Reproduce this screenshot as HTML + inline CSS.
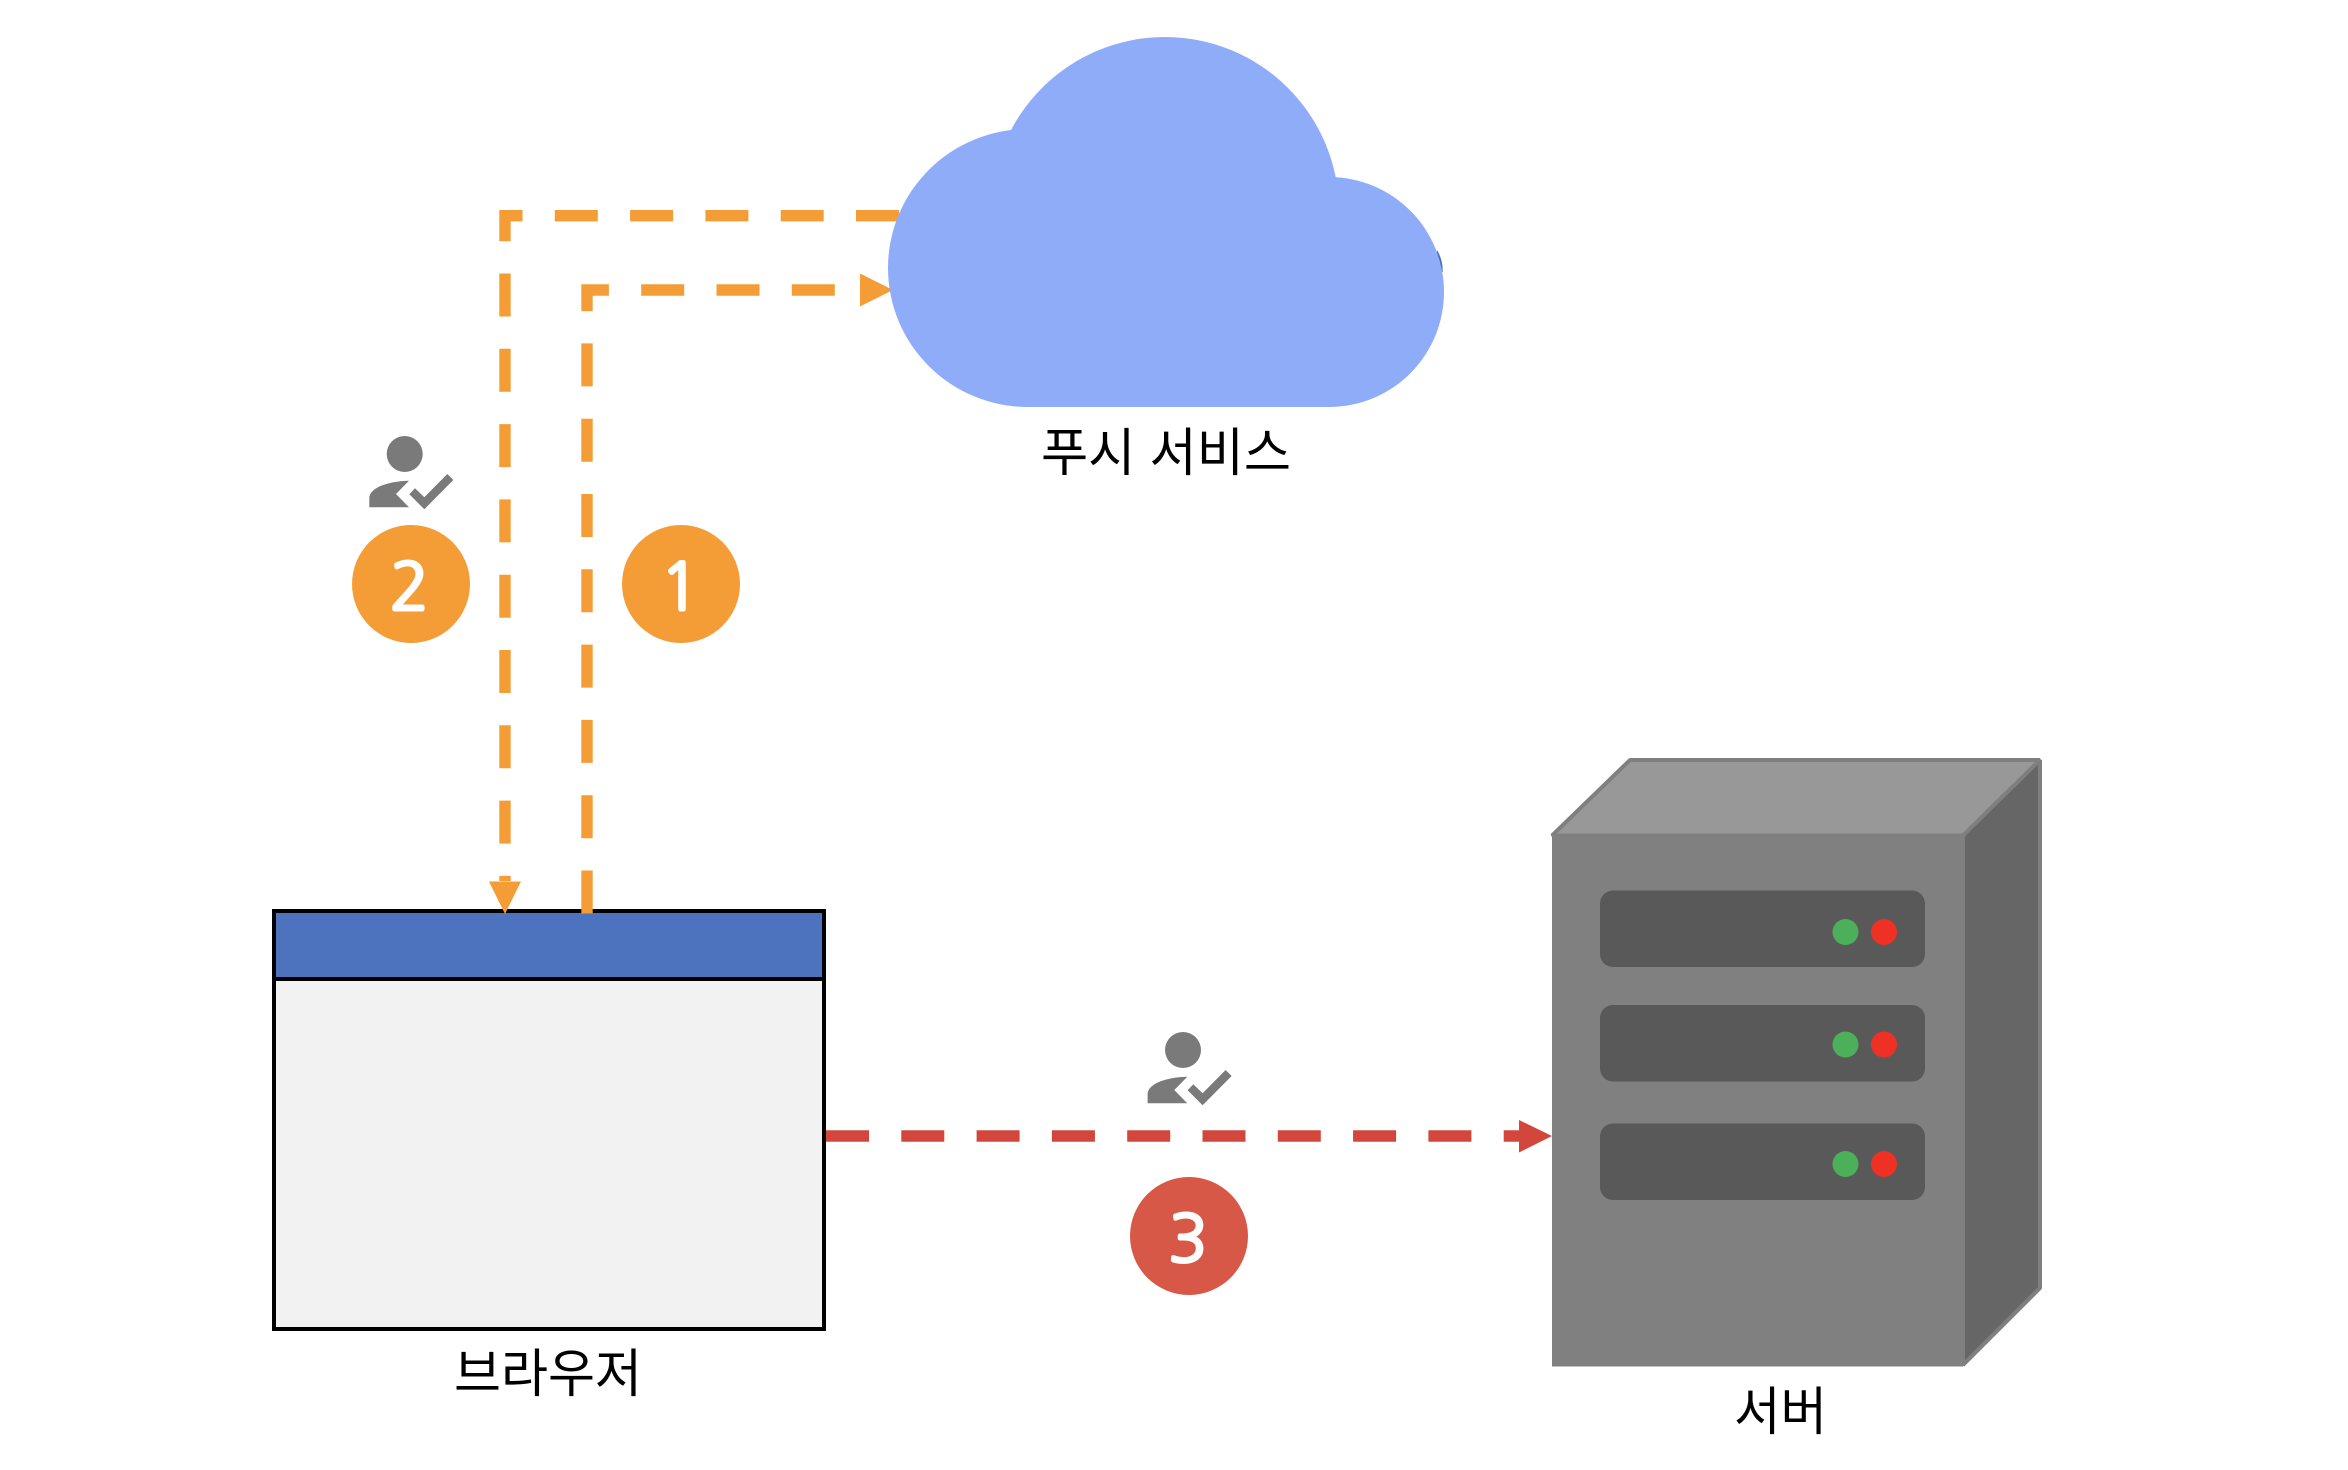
<!DOCTYPE html>
<html lang="ko">
<head>
<meta charset="utf-8">
<title>푸시 서비스 다이어그램</title>
<style>
html,body{margin:0;padding:0;background:#fff;width:2348px;height:1470px;overflow:hidden}
svg{display:block}
.lbl{font-family:"Liberation Sans","Noto Sans CJK KR",sans-serif;font-size:52px;fill:#000}
.num{font-family:"NanumGothic","Liberation Sans",sans-serif;font-size:65px;fill:#fff;stroke:#fff;stroke-width:3;text-anchor:middle}
</style>
</head>
<body>
<svg width="2348" height="1470" viewBox="0 0 2348 1470" xmlns="http://www.w3.org/2000/svg">
<rect width="2348" height="1470" fill="#fff"/>

<!-- browser -->
<rect x="274" y="911" width="550" height="418" fill="#F2F2F2" stroke="#000" stroke-width="4"/>
<rect x="274" y="911" width="550" height="68" fill="#4E73BE" stroke="#000" stroke-width="4"/>
<text class="lbl" x="454" y="1392" textLength="188" lengthAdjust="spacingAndGlyphs">브라우저</text>

<!-- orange connectors -->
<path d="M899 215.7H505V881" fill="none" stroke="#F49D37" stroke-width="11.4" stroke-dasharray="43 32.3"/>
<polygon points="489,881.5 521,881.5 505,914" fill="#F49D37"/>
<path d="M587 913.5V290H861" fill="none" stroke="#F49D37" stroke-width="11.4" stroke-dasharray="43 32.3"/>
<polygon points="860,273.5 860,306.5 893,290" fill="#F49D37"/>

<!-- cloud -->
<path d="M1437 250Q1443 260 1442.7 272L1436 272Z" fill="#4A6CC0"/>
<g fill="#8FACF9">
<ellipse cx="1028" cy="268" rx="140" ry="139"/>
<circle cx="1165" cy="211" r="174"/>
<circle cx="1329" cy="292" r="115"/>
<rect x="1028" y="200" width="301" height="207"/>
</g>
<text class="lbl" x="1041" y="471" textLength="250" lengthAdjust="spacingAndGlyphs">푸시 서비스</text>

<!-- red connector -->
<path d="M826 1136H1519" fill="none" stroke="#D3463B" stroke-width="11.4" stroke-dasharray="43 32.3"/>
<polygon points="1519,1120 1519,1152.5 1552,1136" fill="#D3463B"/>

<!-- server -->
<polygon points="1552,835.5 1630,760 2040,760 1963,835.5" fill="#989898" stroke="#7F7F7F" stroke-width="4" stroke-linejoin="bevel"/>
<polygon points="1963,835.5 2040,760 2040,1288 1963,1365" fill="#666666" stroke="#7F7F7F" stroke-width="4" stroke-linejoin="bevel"/>
<rect x="1552" y="835.5" width="411" height="531" fill="#808080"/>
<g fill="#595959">
<rect x="1600" y="890.5" width="325" height="76.5" rx="13"/>
<rect x="1600" y="1005" width="325" height="76.5" rx="13"/>
<rect x="1600" y="1123.5" width="325" height="76.5" rx="13"/>
</g>
<g fill="#4CAF5A">
<circle cx="1845.5" cy="932" r="13"/>
<circle cx="1845.5" cy="1044.5" r="13"/>
<circle cx="1845.5" cy="1164" r="13"/>
</g>
<g fill="#EE3124">
<circle cx="1884" cy="932" r="13"/>
<circle cx="1884" cy="1044.5" r="13"/>
<circle cx="1884" cy="1164" r="13"/>
</g>
<text class="lbl" x="1734" y="1430" textLength="93" lengthAdjust="spacingAndGlyphs">서버</text>

<!-- person icons -->
<g fill="#7A7A7A">
<circle cx="404.7" cy="454" r="18"/>
<path d="M369.3 507.3V498.3C369.3 487 390 481 409 480.7L396 494L409 507.3Z"/>
<polygon points="409.3,494.3 415,488.3 424.3,497.3 447.3,474 453.3,480 424.3,509.3"/>
</g>
<g fill="#7A7A7A" transform="translate(778.3 596)">
<circle cx="404.7" cy="454" r="18"/>
<path d="M369.3 507.3V498.3C369.3 487 390 481 409 480.7L396 494L409 507.3Z"/>
<polygon points="409.3,494.3 415,488.3 424.3,497.3 447.3,474 453.3,480 424.3,509.3"/>
</g>

<!-- number badges -->
<circle cx="411" cy="584" r="59" fill="#F49D37"/>
<text class="num" x="409.5" y="610">2</text>
<circle cx="681" cy="584" r="59" fill="#F49D37"/>
<text class="num" x="680" y="610">1</text>
<circle cx="1189" cy="1236" r="59" fill="#D75847"/>
<text class="num" x="1188" y="1262">3</text>
</svg>
</body>
</html>
